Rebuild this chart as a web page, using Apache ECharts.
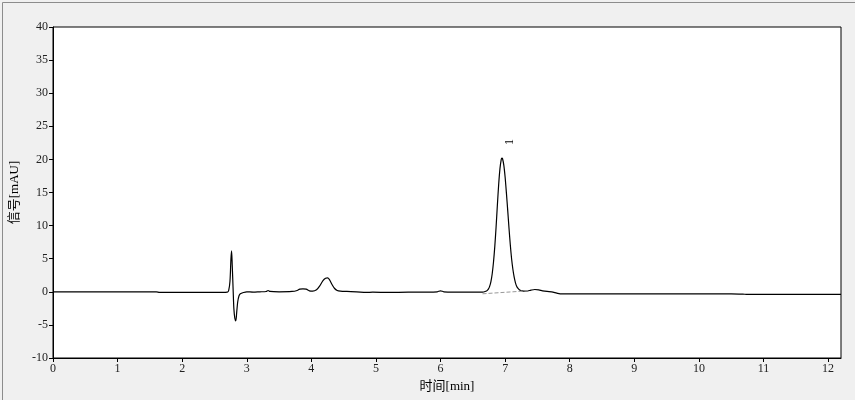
<!DOCTYPE html>
<html><head><meta charset="utf-8">
<script src="https://cdn.jsdelivr.net/npm/echarts@6/dist/echarts.min.js"></script>
<style>html,body{margin:0;padding:0;background:#f0f0f0}#c{width:855px;height:400px}</style>
</head><body><div id="c"></div>
<script>
// retention time [min]
var times = [0, 0.5, 1.0, 1.5, 1.6, 1.65, 2.0, 2.5, 2.7, 2.72, 2.74, 2.755, 2.765, 2.775, 2.79, 2.80, 2.815, 2.83, 2.845, 2.86, 2.88, 2.90, 2.95, 3.0, 3.1, 3.2, 3.3, 3.33, 3.36, 3.5, 3.7, 3.78, 3.82, 3.87, 3.92, 3.97, 4.02, 4.08, 4.13, 4.18, 4.22, 4.25, 4.28, 4.32, 4.36, 4.40, 4.45, 4.55, 4.7, 4.85, 4.95, 5.2, 5.5, 5.8, 5.95, 6.0, 6.05, 6.2, 6.5, 6.65, 6.70, 6.72, 6.74, 6.76, 6.78, 6.80, 6.82, 6.84, 6.86, 6.88, 6.90, 6.92, 6.94, 6.95, 6.96, 6.98, 7.00, 7.02, 7.04, 7.06, 7.08, 7.10, 7.12, 7.14, 7.16, 7.18, 7.20, 7.22, 7.24, 7.26, 7.30, 7.35, 7.40, 7.46, 7.52, 7.58, 7.65, 7.72, 7.80, 7.85, 8.5, 9.5, 10.5, 10.68, 10.75, 11.5, 12.2];
// detector signal [mAU]
var signal = [0, 0, 0, 0, 0, -0.1, -0.1, -0.1, -0.05, 0.2, 1.6, 5.0, 6.2, 4.0, 0.0, -2.5, -4.0, -4.4, -3.0, -1.5, -0.6, -0.3, -0.1, 0.0, -0.05, 0.0, 0.05, 0.2, 0.05, 0.0, 0.05, 0.2, 0.4, 0.45, 0.4, 0.15, 0.1, 0.3, 0.9, 1.7, 2.05, 2.1, 1.85, 1.1, 0.5, 0.2, 0.1, 0.05, 0.0, -0.1, -0.05, -0.1, -0.05, -0.05, 0.0, 0.15, 0.0, -0.05, -0.05, -0.05, 0.08, 0.18, 0.4, 0.82, 1.55, 2.73, 4.5, 6.86, 9.8, 13.1, 16.2, 18.6, 20.0, 20.2, 20.1, 19.1, 17.3, 14.9, 12.3, 9.6, 7.1, 5.0, 3.4, 2.2, 1.35, 0.8, 0.5, 0.3, 0.2, 0.15, 0.1, 0.12, 0.25, 0.35, 0.3, 0.15, 0.05, 0.0, -0.2, -0.3, -0.3, -0.3, -0.3, -0.35, -0.4, -0.4, -0.4];
// integration baseline of peak 1
var baseTimes = [6.65, 7.35];
var baseVals = [-0.3, 0.15];
// peak label
var peakTime = 6.95, peakVal = 20.2, peakName = '1';
var xTicks = [0,1,2,3,4,5,6,7,8,9,10,11,12];
var yTicks = [-10,-5,0,5,10,15,20,25,30,35,40];

var lineData = times.map(function(t,i){return [t, signal[i]];});
var baseData = baseTimes.map(function(t,i){return [t, baseVals[i]];});
var font = '"Liberation Serif", "Noto Sans CJK SC", serif';
var chart = echarts.init(document.getElementById('c'));
chart.setOption({
  animation:false,
  backgroundColor:'#f0f0f0',
  graphic:[{type:'rect',left:0,top:0,shape:{width:853,height:398},style:{fill:'none',stroke:'#8c8c8c',lineWidth:1},z:-1}],
  grid:{left:53,right:14,top:27,bottom:42,show:true,backgroundColor:'#ffffff',borderColor:'#000',borderWidth:1},
  xAxis:{type:'value',min:0,max:12.2,interval:1,
    name:'时间[min]',nameLocation:'middle',nameGap:18,
    nameTextStyle:{fontFamily:font,fontSize:13,color:'#000'},
    axisLine:{onZero:false,lineStyle:{color:'#000'}},
    axisTick:{show:true,length:4,lineStyle:{color:'#000'}},
    splitLine:{show:false},
    axisLabel:{fontFamily:font,fontSize:12,color:'#222',margin:5,showMaxLabel:false,
      formatter:function(v){return xTicks.indexOf(v)>=0?String(v):'';}}},
  yAxis:{type:'value',min:-10,max:40,interval:5,
    name:'信号[mAU]',nameLocation:'middle',nameGap:30,nameRotate:90,
    nameTextStyle:{fontFamily:font,fontSize:13,color:'#000'},
    axisLine:{show:true,lineStyle:{color:'#000'}},
    axisTick:{show:true,length:4,lineStyle:{color:'#000'}},
    splitLine:{show:false},
    axisLabel:{fontFamily:font,fontSize:12,color:'#222',margin:5,
      formatter:function(v){return yTicks.indexOf(v)>=0?String(v):'';}}},
  series:[
    {type:'line',data:lineData,showSymbol:false,smooth:0.3,lineStyle:{color:'#000',width:1.2},
     markPoint:{symbol:'circle',symbolSize:0,data:[{coord:[peakTime,peakVal],value:peakName,
       label:{show:true,formatter:peakName,rotate:90,offset:[16,8],fontFamily:font,fontSize:12,color:'#000'}}]}},
    {type:'line',data:baseData,showSymbol:false,lineStyle:{color:'#999',width:1,type:'dashed'}}
  ]
});
</script></body></html>
